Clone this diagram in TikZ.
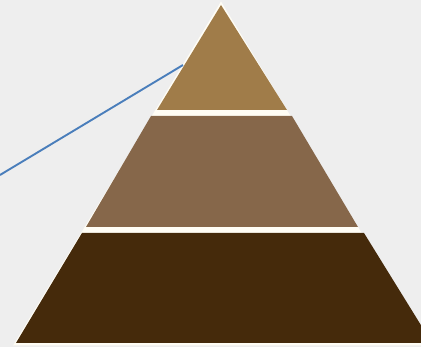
\documentclass[tikz,border=0pt]{standalone}
\definecolor{bg}{HTML}{EEEEEE}
\definecolor{tierA}{HTML}{A07C49}
\definecolor{tierB}{HTML}{86674A}
\definecolor{tierC}{HTML}{452A0B}
\definecolor{edge}{HTML}{FFFDF5}
\definecolor{callout}{HTML}{4A7EBB}
\begin{document}
\begin{tikzpicture}[x=1pt,y=-1pt,
  tier/.style={draw=none},
  leader/.style={draw=callout,line width=1.9pt}]
\useasboundingbox (0,0) rectangle (421,347);
\fill[bg] (0,0) rectangle (421,347);
% white base pyramid (edges and gaps)
\fill[edge] (221,1.5) -- (13,345.5) -- (430,345.5) -- cycle;
% tiers
\fill[tierA,tier] (221,5) -- (287,110) -- (157,110) -- cycle;
\fill[tierB,tier] (151,116) -- (292,116) -- (358,227) -- (86,227) -- cycle;
\fill[tierC,tier] (82,233) -- (364,233) -- (432,343) -- (16,343) -- cycle;
% callout line
\coordinate (lend) at (0,175);
\coordinate (tip) at (183,65);
\draw[leader] (lend) -- (tip);
\end{tikzpicture}
\end{document}
